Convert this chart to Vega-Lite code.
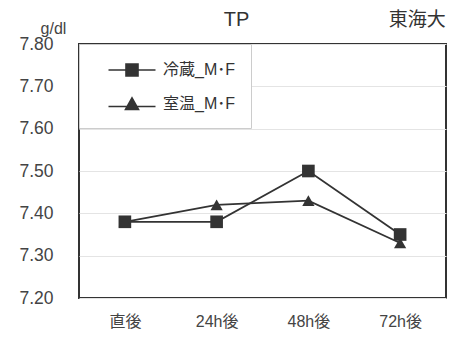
{
  "$schema": "https://vega.github.io/schema/vega-lite/v6.json",
  "autosize": {"type": "none"},
  "width": 367,
  "height": 254,
  "padding": {"left": 79, "top": 44, "right": 6, "bottom": 50},
  "background": "white",
  "config": {"view": {"stroke": "#333", "strokeWidth": 2}},
  "datasets": {
    "main": [
      {"t": "直後", "series": "冷蔵_M･F", "value": 7.38},
      {"t": "24h後", "series": "冷蔵_M･F", "value": 7.38},
      {"t": "48h後", "series": "冷蔵_M･F", "value": 7.50},
      {"t": "72h後", "series": "冷蔵_M･F", "value": 7.35},
      {"t": "直後", "series": "室温_M･F", "value": 7.38},
      {"t": "24h後", "series": "室温_M･F", "value": 7.42},
      {"t": "48h後", "series": "室温_M･F", "value": 7.43},
      {"t": "72h後", "series": "室温_M･F", "value": 7.33}
    ],
    "note": [
      {"t": "72h後", "value": 7.857, "label": "東海大"}
    ],
    "ttl": [
      {"t": "24h後", "value": 7.857, "label": "TP"}
    ]
  },
  "encoding": {
    "x": {"field": "t", "type": "nominal", "sort": ["直後", "24h後", "48h後", "72h後"],
      "axis": {"title": null, "labelAngle": 0, "ticks": false, "domain": false, "labelFontSize": 16, "labelPadding": 15, "labelColor": "#444", "labelFont": "Liberation Sans, Noto Sans CJK JP"}},
    "y": {"field": "value", "type": "quantitative", "scale": {"domain": [7.2, 7.8], "nice": false, "zero": false},
      "axis": {"values": [7.2, 7.3, 7.4, 7.5, 7.6, 7.7, 7.8], "format": ".2f", "labelFontSize": 17.5, "labelColor": "#444", "labelFont": "Liberation Sans", "ticks": false, "domain": false, "grid": true, "gridColor": "#e4e4e4", "labelPadding": 26, "labelFlush": false, "labelOverlap": false,
        "title": "g/dl", "titleAngle": 0, "titleX": -26, "titleY": -16, "titleAlign": "center", "titleBaseline": "middle", "titleFontSize": 16, "titleFontWeight": "normal", "titleColor": "#444", "titleFont": "Liberation Sans"}}
  },
  "layer": [
    {
      "data": {"name": "main"},
      "mark": {"type": "line", "color": "#333", "strokeWidth": 1.8},
      "encoding": {"detail": {"field": "series"}}
    },
    {
      "data": {"name": "main"},
      "mark": {"type": "point", "filled": false, "color": "#333", "strokeWidth": 1.6, "opacity": 0, "size": 400},
      "encoding": {
        "shape": {"field": "series", "type": "nominal",
          "scale": {"domain": ["冷蔵_M･F", "室温_M･F"], "range": [
            "M-2.35,0H2.35M-0.6,-0.6H0.6V0.6H-0.6ZM-0.6,-0.45H0.6M-0.6,-0.3H0.6M-0.6,-0.15H0.6M-0.6,0H0.6M-0.6,0.15H0.6M-0.6,0.3H0.6M-0.6,0.45H0.6",
            "M-2.35,0.25H2.35M0,-0.6L0.65,0.55H-0.65ZM-0.085,-0.45H0.085M-0.17,-0.3H0.17M-0.25,-0.15H0.25M-0.34,0H0.34M-0.42,0.15H0.42M-0.51,0.3H0.51M-0.59,0.45H0.59"]},
          "legend": {"title": null, "orient": "top-left", "offset": 0, "padding": 15, "fillColor": "white", "strokeColor": "#cccccc", "labelFontSize": 16, "labelFont": "Liberation Sans, Noto Sans CJK JP", "labelColor": "#333", "symbolSize": 400, "symbolOffset": 27, "labelOffset": 20, "rowPadding": 13, "symbolOpacity": 1, "labelLimit": 0, "symbolStrokeColor": "#333", "symbolStrokeWidth": 1.6,
            "encode": {"symbols": {"update": {"stroke": {"value": "#333"}, "strokeWidth": {"value": 1.6}, "opacity": {"value": 1}, "strokeOpacity": {"value": 1}}}}}}
      }
    },
    {
      "data": {"name": "main"},
      "transform": [{"filter": "datum.series === '冷蔵_M･F'"}],
      "mark": {"type": "point", "filled": true, "color": "#333", "size": 160, "opacity": 1, "shape": "square"}
    },
    {
      "data": {"name": "main"},
      "transform": [{"filter": "datum.series === '室温_M･F'"}],
      "mark": {"type": "point", "filled": true, "color": "#333", "size": 150, "opacity": 1, "shape": "triangle-up"}
    },
    {
      "data": {"name": "note"},
      "mark": {"type": "text", "clip": false, "dx": 17, "fontSize": 19, "font": "Noto Sans CJK JP", "color": "#333", "align": "center", "baseline": "middle"},
      "encoding": {"text": {"field": "label"}}
    },
    {
      "data": {"name": "ttl"},
      "mark": {"type": "text", "clip": false, "dx": 20, "fontSize": 20, "font": "Liberation Sans", "color": "#333", "align": "center", "baseline": "middle"},
      "encoding": {"text": {"field": "label"}}
    }
  ]
}
